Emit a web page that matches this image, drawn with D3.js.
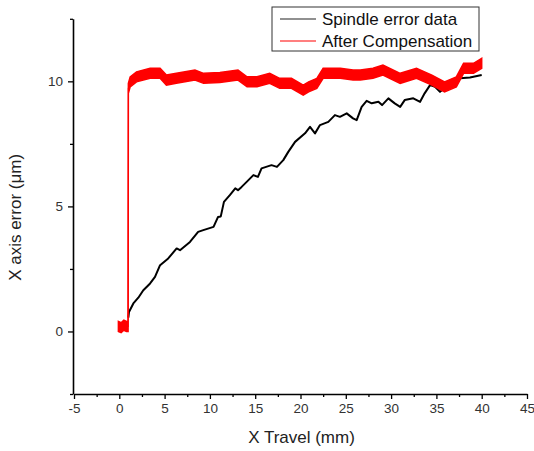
<!DOCTYPE html>
<html>
<head>
<meta charset="utf-8">
<script src="https://cdn.jsdelivr.net/npm/d3@7"></script>
<style>
  body { margin: 0; background: #fff; }
  svg { display: block; font-family: "Liberation Sans", Arial, sans-serif; }
</style>
</head>
<body>
<script>
// data
var spindleX = [1.0, 1.07, 1.55, 2.1, 2.65, 3.4, 3.94, 4.5, 5.4, 6.33, 6.7, 7.8, 8.7, 9.27, 10.4, 10.9, 11.2, 11.55, 12.2, 12.8, 13.1, 13.5, 14.06, 14.8, 15.3, 15.7, 16.8, 17.4, 18.1, 18.65, 19.4, 20.5, 21.05, 21.6, 22.15, 23.07, 23.8, 24.35, 25.1, 25.8, 26.2, 26.75, 27.3, 27.86, 28.6, 29.0, 29.7, 30.4, 31.0, 31.5, 32.45, 33.2, 33.7, 34.3, 34.85, 35.4, 36.1, 36.9, 37.6, 38.7, 40.0];
var spindleY = [0.55, 0.78, 1.12, 1.35, 1.65, 1.92, 2.18, 2.65, 2.92, 3.32, 3.25, 3.58, 3.98, 4.05, 4.18, 4.58, 4.6, 5.18, 5.45, 5.72, 5.65, 5.78, 5.98, 6.25, 6.18, 6.52, 6.65, 6.58, 6.85, 7.18, 7.58, 7.92, 8.18, 7.92, 8.25, 8.38, 8.65, 8.58, 8.72, 8.52, 8.45, 8.98, 9.22, 9.12, 9.18, 9.05, 9.32, 9.12, 8.98, 9.25, 9.32, 9.18, 9.52, 9.85, 9.78, 9.58, 9.78, 9.92, 10.12, 10.15, 10.25];

var compX = [-0.1, 0.2, 0.5, 0.8, 0.97, 1.0, 1.2, 1.9, 3.4, 4.5, 5.2, 6.3, 8.35, 9.3, 11.1, 13.1, 14.1, 15.2, 16.6, 17.7, 19.0, 20.3, 20.9, 21.8, 22.5, 24.4, 25.8, 26.6, 28.0, 29.1, 31.0, 32.8, 34.5, 35.9, 37.2, 38.0, 39.1, 40.0];
var compY = [0.2, 0.15, 0.25, 0.2, 0.2, 9.72, 9.98, 10.18, 10.32, 10.32, 10.05, 10.12, 10.25, 10.12, 10.15, 10.25, 9.98, 9.98, 10.12, 9.92, 9.92, 9.65, 9.78, 9.92, 10.32, 10.32, 10.25, 10.25, 10.32, 10.45, 10.12, 10.32, 10.05, 9.78, 9.98, 10.52, 10.52, 10.72];

var xTicks = [-5, 0, 5, 10, 15, 20, 25, 30, 35, 40, 45];
var yTicks = [0, 5, 10];
var seriesNames = ["Spindle error data", "After Compensation"];

var width = 534, height = 451;
var margin = {top: 18.8, right: 7, bottom: 57, left: 74};

var svg = d3.select("body").append("svg").attr("width", width).attr("height", height);

var x = d3.scaleLinear().domain([-5, 45]).range([margin.left, width - margin.right]);
var y = d3.scaleLinear().domain([-2.5, 12.5]).range([height - margin.bottom, margin.top]);

// minor ticks halfway between majors
var xMinor = xTicks.slice(0, -1).map(function(d) { return d + 2.5; });
var yMinor = [-2.5].concat(yTicks.map(function(d) { return d + 2.5; }));

// axes (plain hyphen for negatives, like the original)
var gx = svg.append("g").attr("transform", "translate(0," + y(-2.5) + ")");
gx.call(d3.axisBottom(x).tickValues(xTicks).tickSize(5).tickSizeOuter(0).tickPadding(4).tickFormat(function(d) { return String(d); }));
gx.append("g").call(d3.axisBottom(x).tickValues(xMinor).tickSize(3).tickSizeOuter(0).tickFormat(""))
  .select(".domain").remove();

var gy = svg.append("g").attr("transform", "translate(" + (x(-5) - 1) + ",0)");
gy.call(d3.axisLeft(y).tickValues(yTicks).tickSize(5).tickSizeOuter(0).tickPadding(5));
gy.append("g").call(d3.axisLeft(y).tickValues(yMinor).tickSize(3).tickSizeOuter(0).tickFormat(""))
  .select(".domain").remove();

svg.selectAll(".domain").attr("stroke", "#000").attr("stroke-width", 1.6);
svg.selectAll(".tick line").attr("stroke", "#000").attr("stroke-width", 1.3);
svg.selectAll(".tick text").attr("font-size", 13.5).attr("fill", "#333")
  .attr("font-family", "'Liberation Sans', Arial, sans-serif");

// axis titles
svg.append("text")
  .attr("x", (x(-5) + x(45)) / 2 + 1).attr("y", 443)
  .attr("text-anchor", "middle").attr("font-size", 17).attr("fill", "#222")
  .text("X Travel (mm)");

svg.append("text")
  .attr("transform", "translate(21," + (y(5) + 11) + ") rotate(-90)")
  .attr("text-anchor", "middle").attr("font-size", 17).attr("fill", "#222")
  .text("X axis error (\u03bcm)");

// series
var compData = compX.map(function(d, i) { return [d, compY[i]]; });
var spindleData = spindleX.map(function(d, i) { return [d, spindleY[i]]; });

var band = d3.area()
  .x(function(d) { return x(d[0]); })
  .y0(function(d) { return y(d[1] - 0.2); })
  .y1(function(d) { return y(d[1] + 0.2); });

var line = d3.line()
  .x(function(d) { return x(d[0]); })
  .y(function(d) { return y(d[1]); });

svg.append("path").datum(spindleData)
  .attr("d", line).attr("fill", "none").attr("stroke", "#000").attr("stroke-width", 2)
  .attr("stroke-linejoin", "round");

svg.append("path").datum(compData)
  .attr("d", band).attr("fill", "#ff0000").attr("stroke", "#ff0000").attr("stroke-width", 1.5);
svg.append("path").datum(compData)
  .attr("d", line).attr("fill", "none").attr("stroke", "#ff0000").attr("stroke-width", 1.2);

// legend
var lg = svg.append("g").attr("transform", "translate(272,7)");
lg.append("rect").attr("width", 207).attr("height", 44)
  .attr("fill", "#fff").attr("stroke", "#333").attr("stroke-width", 1);
var colors = ["#222", "#ff0000"];
seriesNames.forEach(function(name, i) {
  var cy = 12 + i * 22;
  lg.append("line").attr("x1", 8).attr("x2", 44).attr("y1", cy).attr("y2", cy)
    .attr("stroke", colors[i]).attr("stroke-width", 1.2);
  lg.append("text").attr("x", 50).attr("y", cy + 6)
    .attr("font-size", 17).attr("fill", "#111").text(name);
});
</script>
</body>
</html>
